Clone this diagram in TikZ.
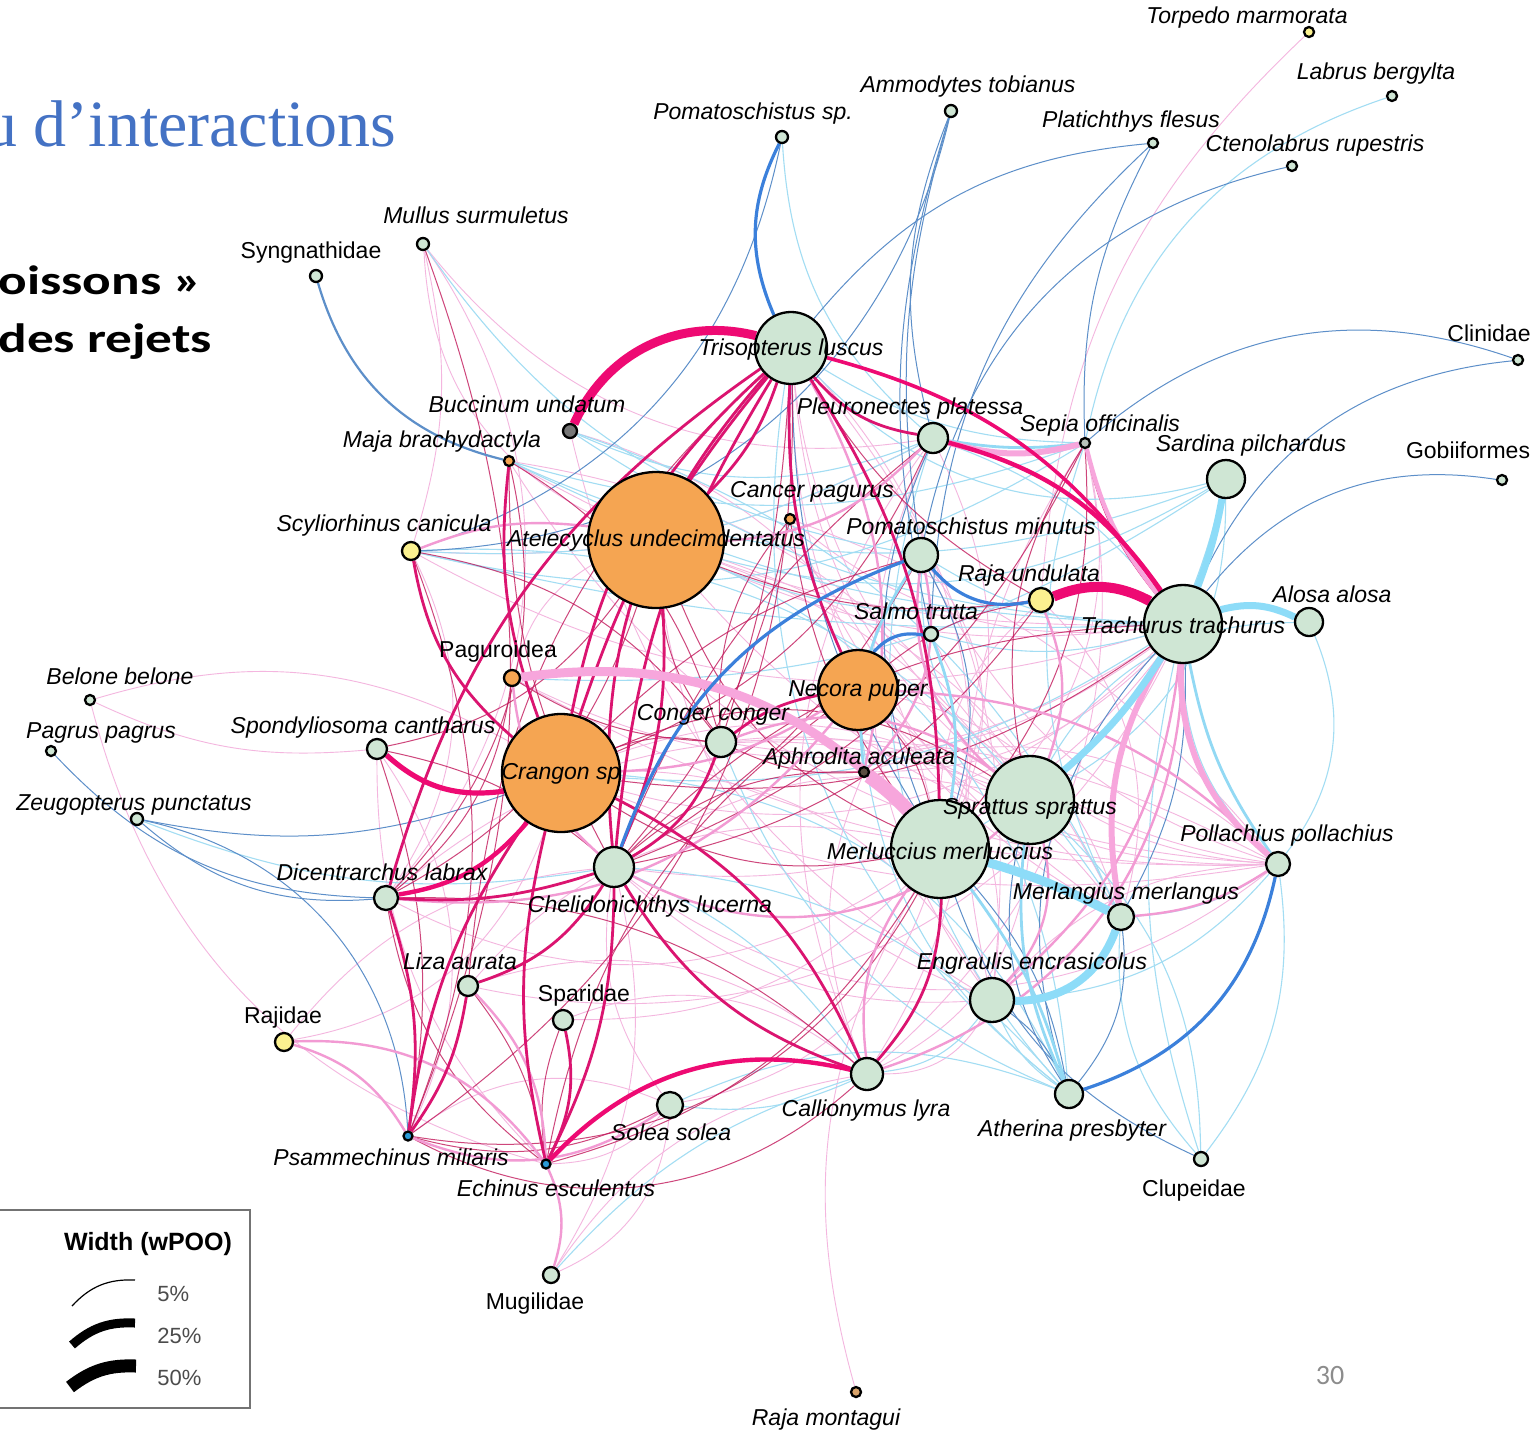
\documentclass[tikz,border=0pt]{standalone}
\usepackage{fontspec}
\newfontfamily\arial{Liberation Sans}
\newfontfamily\tnr{Liberation Serif}
\newfontfamily\carl{Carlito}
\pgfdeclarelayer{bg}
\pgfdeclarelayer{edges}
\pgfsetlayers{bg,edges,main}

\definecolor{cgreen}{HTML}{CFE6D4}
\definecolor{corange}{HTML}{F5A552}
\definecolor{cyellow}{HTML}{FBF190}
\definecolor{cgrey}{HTML}{767676}
\definecolor{cdark}{HTML}{5A4C40}
\definecolor{cbluenode}{HTML}{2A9AD6}
\definecolor{ctan}{HTML}{D9A36A}
\definecolor{csepia}{HTML}{B9C2BB}
\definecolor{titleblue}{HTML}{4472C4}

\definecolor{mgA}{HTML}{EE0A73}
\definecolor{mgB}{HTML}{DB1470}
\definecolor{mgC}{HTML}{C2185B}
\definecolor{pkA}{HTML}{F7A6DC}
\definecolor{pkB}{HTML}{F29AD3}
\definecolor{pkC}{HTML}{F4B6DF}
\definecolor{lbA}{HTML}{8DDCF8}
\definecolor{lbB}{HTML}{92D9F4}
\definecolor{lbC}{HTML}{A3DDF3}
\definecolor{sbC}{HTML}{5D8FC9}
\definecolor{blB}{HTML}{3B80DB}

\tikzset{
  nd/.style={circle,draw=black,line width=1.15pt,inner sep=0pt,minimum size=#1},
  spn/.style={font=\arial\fontsize{11.5}{13}\selectfont\itshape,inner sep=0pt,anchor=base},
  fam/.style={font=\arial\fontsize{11.5}{13}\selectfont,inner sep=0pt,anchor=base},
  mgthick/.style={draw=mgA,line width=4.5pt},
  mgmed/.style={draw=mgB,line width=1.4pt},
  mgthin/.style={draw=mgC,line width=0.5pt,draw opacity=0.8},
  pkthick/.style={draw=pkA,line width=3pt},
  pkmed/.style={draw=pkB,line width=1.2pt},
  pkthin/.style={draw=pkC,line width=0.45pt},
  lbthick/.style={draw=lbA,line width=3.5pt},
  lbmed/.style={draw=lbB,line width=1.4pt},
  lbthin/.style={draw=lbC,line width=0.55pt},
  sbthin/.style={draw=sbC,line width=0.5pt},
  bluemed/.style={draw=blB,line width=1.6pt},
  legarc/.style={draw=black,line cap=butt}
}

\begin{document}
\begin{tikzpicture}[x=0.5pt,y=-0.5pt]
\useasboundingbox (0,0) rectangle (1534,1430);
\begin{pgfonlayer}{bg}
\fill[white] (0,0) rectangle (1534,1430);
\end{pgfonlayer}

% ---- species nodes ----
\node[nd=5pt,fill=cyellow] (tm) at (1309,32) {};
\node[nd=5pt,fill=cgreen] (lb) at (1392,96) {};
\node[nd=6pt,fill=cgreen] (amm) at (951,111) {};
\node[nd=6pt,fill=cgreen] (ps) at (782,137) {};
\node[nd=5pt,fill=cgreen] (pf) at (1153,143) {};
\node[nd=5pt,fill=cgreen] (cr) at (1292,166) {};
\node[nd=6pt,fill=cgreen] (ms) at (423,244) {};
\node[nd=6pt,fill=cgreen] (sy) at (316,276) {};
\node[nd=5pt,fill=cgreen] (cl) at (1518,360) {};
\node[nd=36pt,fill=cgreen] (tl) at (791,348) {};
\node[nd=7pt,fill=cgrey] (bu) at (570,431) {};
\node[nd=5pt,fill=corange] (mb) at (509,461) {};
\node[nd=15pt,fill=cgreen] (pp) at (933,438) {};
\node[nd=5pt,fill=csepia] (so) at (1085,443) {};
\node[nd=19pt,fill=cgreen] (sar) at (1226,479) {};
\node[nd=5pt,fill=cgreen] (go) at (1502,480) {};
\node[nd=5pt,fill=corange] (cp) at (790,519) {};
\node[nd=68pt,fill=corange] (au) at (656,540) {};
\node[nd=9pt,fill=cyellow] (sc) at (411,551) {};
\node[nd=17pt,fill=cgreen] (pm) at (921,555) {};
\node[nd=12pt,fill=cyellow] (ru) at (1041,600) {};
\node[nd=7pt,fill=cgreen] (st) at (931,634) {};
\node[nd=39pt,fill=cgreen] (tt) at (1183,624) {};
\node[nd=14pt,fill=cgreen] (aa) at (1309,622) {};
\node[nd=8pt,fill=corange] (pg) at (512,678) {};
\node[nd=40pt,fill=corange] (np) at (858,690) {};
\node[nd=5pt,fill=cgreen] (bb) at (90,700) {};
\node[nd=5pt,fill=cgreen] (pa) at (51,751) {};
\node[nd=10pt,fill=cgreen] (sca) at (377,749) {};
\node[nd=15pt,fill=cgreen] (cc) at (721,742) {};
\node[nd=59pt,fill=corange] (cs) at (561,773) {};
\node[nd=5pt,fill=cdark] (ac) at (864,772) {};
\node[nd=44pt,fill=cgreen] (spr) at (1030,800) {};
\node[nd=6pt,fill=cgreen] (zp) at (137,819) {};
\node[nd=12pt,fill=cgreen] (pol) at (1278,864) {};
\node[nd=49pt,fill=cgreen] (mm) at (940,849) {};
\node[nd=12pt,fill=cgreen] (dl) at (386,898) {};
\node[nd=20pt,fill=cgreen] (chl) at (614,867) {};
\node[nd=13pt,fill=cgreen] (mer) at (1121,917) {};
\node[nd=22pt,fill=cgreen] (ee) at (992,1000) {};
\node[nd=10pt,fill=cgreen] (la) at (468,986) {};
\node[nd=10pt,fill=cgreen] (spa) at (563,1020) {};
\node[nd=9pt,fill=cyellow] (raj) at (284,1042) {};
\node[nd=16pt,fill=cgreen] (cly) at (867,1074) {};
\node[nd=14pt,fill=cgreen] (ap) at (1069,1094) {};
\node[nd=13pt,fill=cgreen] (ss) at (670,1105) {};
\node[nd=4.5pt,fill=cbluenode] (psm) at (408,1136) {};
\node[nd=4.5pt,fill=cbluenode] (ec) at (546,1164) {};
\node[nd=7pt,fill=cgreen] (clu) at (1201,1159) {};
\node[nd=8pt,fill=cgreen] (mug) at (551,1275) {};
\node[nd=5pt,fill=ctan] (rm) at (856,1392) {};

% ---- interaction edges ----
\begin{pgfonlayer}{edges}
\foreach \a/\b/\c [evaluate=\c as \cc using 1.5*(\c)] in {bb/cs/15, bb/ec/-20,
  ms/dl/25, ms/pp/-20, tm/ru/-14, rm/mm/15,
  mug/chl/-15, raj/cs/-20, sc/dl/20, sc/tt/-15, sc/pp/-10, au/tt/-10, au/spr/10,
  au/pol/-15, au/mer/15, cs/tt/-20, cs/spr/15, cs/pol/-10, np/pol/-15, np/mer/20,
  chl/tt/-20, chl/spr/15, chl/pol/-25, dl/mm/-20, dl/spr/20, la/mm/20, la/tt/-25,
  spa/mm/-15, spa/cly/20, ss/chl/15, ss/mm/-20, cly/spr/-20, mb/tt/-10, mb/spr/15,
  mb/pol/-20, cp/tt/-15, cp/pol/10, cp/mer/-10, pg/au/15, pg/tt/-20, pg/pol/-10,
  cc/tt/-15, cc/pol/10, cc/mer/20, tl/pol/-25, tl/mer/-20, tl/ee/15, tl/spr/-15,
  pp/mm/15, pp/ee/-20, so/mm/20, so/ee/-15, pm/pol/-15, pm/mm/20, ru/mm/-15,
  ru/mer/20, st/pol/-20, ac/tt/-15, ac/pol/20, sca/psm/20, sca/ec/-15, la/cly/20,
  mug/ss/-20, mug/cly/15, bu/mm/20, bu/ee/-15, ms/sc/10, ms/au/-20, raj/chl/15,
  psm/ss/20, ec/ss/-15, cly/ee/-20, ee/pol/15, cs/ee/20, chl/ee/-15, np/ee/20,
  au/ee/-20, tl/cly/25, pp/cly/-20, so/cly/20, ac/cly/-15, bb/sca/-10}
  \draw[pkthin] (\a) to[bend left=\cc] (\b);
\foreach \a/\b/\c [evaluate=\c as \cc using 1.5*(\c)] in {sc/pp/-10, sc/so/-15,
  sc/tt/-5, mb/so/-12, mb/sar/-15, mb/tt/-8,
  bu/pp/-15, bu/tt/-10, tl/so/-10, tl/sar/-20, zp/chl/-10, au/ru/-10, cs/tt/-12,
  chl/cly/10, chl/ap/15, ss/cly/-10, ss/ap/15, mug/cly/10, cly/ee/-15, ap/ee/10,
  clu/tt/10, clu/spr/-15, clu/mer/15, clu/pol/-15, pol/tt/15, aa/spr/-20, aa/pol/20,
  ee/pol/-15, mer/pol/-10, pm/spr/-15, pm/tt/-10, st/tt/-10, cs/ap/20, np/ap/-15,
  au/ap/20, ms/pm/-15, pp/tt/10, so/mer/-15, sar/spr/20, sar/mm/15, pp/ap/-20,
  au/sar/-15, pg/sar/-12, sc/mer/20, cc/ap/-15, bu/mer/15, tl/ap/-20, ps/pp/-15,
  lb/so/-20}
  \draw[lbthin] (\a) to[bend left=\cc] (\b);
\foreach \a/\b/\c [evaluate=\c as \cc using 1.5*(\c)] in {ps/sc/20, amm/pp/-12,
  amm/pm/-8, pf/tl/-15, pf/st/-15, cr/pm/-22,
  cl/so/-20, cl/tt/-20, go/tt/-20, zp/dl/-15, zp/psm/25, zp/cs/-10,
  pa/dl/-15, ap/mm/-10, ap/spr/15, ap/mer/-15, ap/tt/20, ap/ee/-10, clu/mm/15,
  tl/mm/-10, pm/mm/15, pp/mm/-15, tt/mer/10, amm/st/-10, pf/so/-10, amm/sc/25}
  \draw[sbthin] (\a) to[bend left=\cc] (\b);
\foreach \a/\b/\c [evaluate=\c as \cc using 1.4*(\c)] in {tl/cc/5, tl/la/-15,
  psm/sc/-15, psm/sca/-10, psm/cly/-25,
  ec/dl/15, ec/spa/10, ec/la/-10, cs/cc/10, cs/mm/-15, np/mm/10, au/cc/-10,
  au/mm/-15, au/dl/15, mb/chl/-10, mb/cc/15, cp/chl/10, cp/cc/-15, cp/mm/-10,
  pg/cc/-10, pg/dl/15, ac/cc/10, ac/chl/-15, ss/psm/15, so/pp/10, so/mm/15,
  so/spr/-15, ru/au/10, tl/ru/-10, ru/chl/15, ru/np/-10, so/chl/15, pm/chl/10,
  pp/chl/-10, pp/cs/15, pm/cs/-10, cly/dl/-15, sc/cc/15, sca/au/-15, sca/chl/10,
  mb/dl/20, ms/psm/15, tl/psm/20, np/ec/-15, mm/ec/15, spr/cs/-20, tt/cs/15,
  tt/chl/-15, mm/psm/25}
  \draw[mgthin] (\a) to[bend left=\cc] (\b);
\foreach \a/\b/\c [evaluate=\c as \cc using 1.4*(\c)] in {raj/psm/15, raj/ec/20,
  mug/ec/-15, la/ec/15, cs/np/-10,
  au/pp/-15, sc/au/10, pm/ac/20, np/pol/15, pg/chl/-15, spr/ee/20, mm/cly/-15,
  psm/ss/-20, chl/spr/-25, cc/spr/20, dl/np/-20, mer/pol/-10, ru/spr/15,
  pm/spr/-20, tl/ac/15, cly/tt/-25, tt/ee/15}
  \draw[pkmed] (\a) to[bend left=\cc] (\b);
\foreach \a/\b/\c in {pp/so/-8, pm/ac/-20, st/mm/15, tt/pol/-12, mm/ap/10, spr/ap/-15}
  \draw[lbmed] (\a) to[bend left=\c] (\b);
\foreach \a/\b/\c [evaluate=\c as \cc using 1.3*(\c)] in {tl/cs/-8, tl/cs/-14,
  tl/chl/-10, tl/dl/-15, tl/np/-10,
  psm/dl/-10, psm/la/-10, psm/cs/10, ec/cs/10, ec/chl/-10, cs/cly/15, chl/cc/-15,
  cly/chl/15, sc/cs/-15, mb/cs/-10, np/cc/-10, tl/pp/-15, au/chl/10, chl/dl/8,
  ec/spa/-15, cly/mm/-15, la/chl/-15, tl/au/10, tl/mm/12, tl/chl/-18, so/tt/-10}
  \draw[mgmed] (\a) to[bend left=\cc] (\b);

% strongest links
\draw[pkthick] (pp) to[bend left=-15] (so);
\draw[pkthick] (tt) to[bend left=-25] (pol);
\draw[pkthick] (tt) to[bend left=-20] (mer);
\draw[pkthick,line width=2.2pt] (so) to[bend left=-12] (tt);
\draw[pkthick,line width=4.5pt] (pg) to[bend left=27] (mm);
\draw[pkthick,line width=7pt] (ac) to[bend left=5] (mm);
\draw[lbthick] (sar) to[bend left=5] (tt);
\draw[lbthick] (tt) to[bend left=20] (aa);
\draw[lbthick] (spr) to[bend left=-8] (tt);
\draw[lbthick,line width=4.5pt] (mm) to[bend left=5] (mer);
\draw[lbthick,line width=4pt] (ee) to[bend left=-35] (mer);
\draw[bluemed] (ps) to[bend left=-25] (tl);
\draw[bluemed] (pm) to[bend left=-30] (ru);
\draw[bluemed] (pm) to[bend left=-25] (chl);
\draw[bluemed] (st) to[bend left=-30] (np);
\draw[bluemed] (pol) to[bend left=30] (ap);
\draw[sbthin,line width=1.1pt] (sy) to[bend left=-30] (mb);
\draw[mgthick] (bu) to[bend left=40] (tl);
\draw[mgthick,line width=5pt] (ru) to[bend left=25] (tt);
\draw[mgthick,line width=2.6pt] (sca) to[bend left=-25] (cs);
\draw[mgthick,line width=2.2pt] (pp) to[bend left=20] (tt);
\draw[mgthick,line width=1.8pt] (tl) to[bend left=20] (tt);
\draw[mgthick,line width=2.2pt] (dl) to[bend left=-20] (cs);
\draw[mgthick,line width=2.2pt] (ec) to[bend left=30] (cly);
\end{pgfonlayer}

% ---- species labels ----
\node[spn] at (1247,23) {Torpedo marmorata};
\node[spn] at (1376,79) {Labrus bergylta};
\node[spn] at (968,92) {Ammodytes tobianus};
\node[spn] at (753,119) {Pomatoschistus sp.};
\node[spn] at (1131,127) {Platichthys flesus};
\node[spn] at (1315,151) {Ctenolabrus rupestris};
\node[spn] at (476,223) {Mullus surmuletus};
\node[fam] at (311,258) {Syngnathidae};
\node[fam] at (1489,341) {Clinidae};
\node[spn] at (791,355) {Trisopterus luscus};
\node[spn] at (527,412) {Buccinum undatum};
\node[spn] at (442,447) {Maja brachydactyla};
\node[spn] at (910,414) {Pleuronectes platessa};
\node[spn] at (1100,431) {Sepia officinalis};
\node[spn] at (1251,451) {Sardina pilchardus};
\node[fam] at (1468,458) {Gobiiformes};
\node[spn] at (812,497) {Cancer pagurus};
\node[spn] at (656,546) {Atelecyclus undecimdentatus};
\node[spn] at (384,531) {Scyliorhinus canicula};
\node[spn] at (971,534) {Pomatoschistus minutus};
\node[spn] at (1029,581) {Raja undulata};
\node[spn] at (916,619) {Salmo trutta};
\node[spn] at (1183,633) {Trachurus trachurus};
\node[spn] at (1332,602) {Alosa alosa};
\node[fam] at (498,657) {Paguroidea};
\node[spn] at (858,696) {Necora puber};
\node[spn] at (120,684) {Belone belone};
\node[spn] at (101,738) {Pagrus pagrus};
\node[spn] at (363,733) {Spondyliosoma cantharus};
\node[spn] at (713,720) {Conger conger};
\node[spn] at (561,779) {Crangon sp};
\node[spn] at (859,764) {Aphrodita aculeata};
\node[spn] at (1030,814) {Sprattus sprattus};
\node[spn] at (134,810) {Zeugopterus punctatus};
\node[spn] at (1287,841) {Pollachius pollachius};
\node[spn] at (940,859) {Merluccius merluccius};
\node[spn] at (382,880) {Dicentrarchus labrax};
\node[spn] at (650,912) {Chelidonichthys lucerna};
\node[spn] at (1126,899) {Merlangius merlangus};
\node[spn] at (1032,969) {Engraulis encrasicolus};
\node[spn] at (460,969) {Liza aurata};
\node[fam] at (584,1001) {Sparidae};
\node[fam] at (283,1023) {Rajidae};
\node[spn] at (866,1116) {Callionymus lyra};
\node[spn] at (1072,1136) {Atherina presbyter};
\node[spn] at (671,1140) {Solea solea};
\node[spn] at (391,1165) {Psammechinus miliaris};
\node[spn] at (556,1196) {Echinus esculentus};
\node[fam] at (1194,1196) {Clupeidae};
\node[fam] at (535,1309) {Mugilidae};
\node[spn] at (826,1425) {Raja montagui};

% ---- slide text ----
\node[anchor=base east,inner sep=0pt,text=titleblue,font=\tnr\fontsize{33}{36}\selectfont]
  (title) at (397,146) {u d’interactions};
\node[anchor=base west,inner sep=0pt,font=\carl\bfseries\fontsize{20.5}{24}\selectfont]
  (sub1) at (-2,294) {\scalebox{1.3}[1]{oissons »}};
\node[anchor=base west,inner sep=0pt,font=\carl\bfseries\fontsize{20.5}{24}\selectfont]
  (sub2) at (-2,352) {\scalebox{1.3}[1]{des rejets}};
\node[anchor=base,inner sep=0pt,text=black!45,font=\carl\fontsize{14}{16}\selectfont]
  (page) at (1330,1384) {30};

% ---- legend ----
\draw[draw=black!55,line width=0.8pt] (-10,1210) rectangle (250,1408);
\node[anchor=base,inner sep=0pt,font=\arial\bfseries\fontsize{12.5}{14}\selectfont]
  (legtitle) at (148,1250) {Width (wPOO)};
\draw[legarc,line width=0.6pt] (72,1306) to[bend left=25] (135,1280);
\draw[legarc,line width=4.5pt] (72,1345) to[bend left=22] (135,1323);
\draw[legarc,line width=6.5pt] (70,1387) to[bend left=20] (136,1366);
\node[anchor=base west,inner sep=0pt,text=black!70,font=\arial\fontsize{11}{13}\selectfont]
  (l5) at (157,1301) {5\%};
\node[anchor=base west,inner sep=0pt,text=black!70,font=\arial\fontsize{11}{13}\selectfont]
  (l25) at (157,1343) {25\%};
\node[anchor=base west,inner sep=0pt,text=black!70,font=\arial\fontsize{11}{13}\selectfont]
  (l50) at (157,1385) {50\%};
\end{tikzpicture}
\end{document}
